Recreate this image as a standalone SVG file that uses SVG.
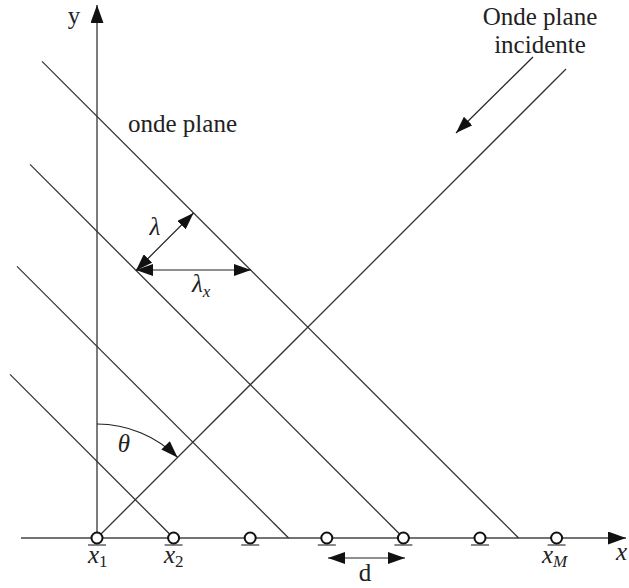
<svg xmlns="http://www.w3.org/2000/svg" width="629" height="588" viewBox="0 0 629 588">
<style>
.ln{stroke:#333;stroke-width:1.3;fill:none}
.ax{stroke:#444;stroke-width:1.4;fill:none}
.ar{stroke:#222;stroke-width:1.2;fill:none}
text{font-family:'Liberation Serif','Times New Roman','DejaVu Serif',serif;fill:#222}
.t{font-size:25px}
.m{font-size:25px;font-style:italic}
.s{font-size:17px;font-style:normal}
.si{font-size:17px;font-style:italic}
.sen circle{fill:#fff;stroke:#111;stroke-width:2}
.sen line{stroke:#888;stroke-width:2}
</style>
<defs>
<marker id="ah" markerUnits="userSpaceOnUse" markerWidth="18" markerHeight="12" refX="17" refY="6" orient="auto-start-reverse">
<path d="M0,0 L17,6 L0,12 z" fill="#111"/>
</marker>
<marker id="ahb" markerUnits="userSpaceOnUse" markerWidth="19" markerHeight="13" refX="18" refY="6.5" orient="auto-start-reverse">
<path d="M0,0 L18,6.5 L0,13 z" fill="#111"/>
</marker>
</defs>
<g id="connectors">
<line id="y-axis" class="ax" x1="97" y1="538" x2="97" y2="5" marker-end="url(#ahb)"/>
<line id="x-axis" class="ax" x1="21" y1="538" x2="626" y2="538" marker-end="url(#ahb)"/>
<line id="wave1" class="ln" x1="42" y1="61.4" x2="518.6" y2="538"/>
<line id="wave2" class="ln" x1="30" y1="164.4" x2="403.6" y2="538"/>
<line id="wave3" class="ln" x1="17" y1="266.4" x2="288.6" y2="538"/>
<line id="wave4" class="ln" x1="10" y1="374.4" x2="173.6" y2="538"/>
<line id="incident" class="ln" x1="97" y1="538" x2="566" y2="69"/>
<line id="incident-arrow" class="ar" x1="533" y1="57" x2="456" y2="133" marker-end="url(#ah)"/>
<line id="lambda-arrow" class="ar" x1="193.5" y1="213" x2="136" y2="270.5" marker-start="url(#ah)" marker-end="url(#ah)"/>
<line id="lambdax-arrow" class="ar" x1="136" y1="270" x2="251" y2="270" marker-start="url(#ah)" marker-end="url(#ah)"/>
<path id="theta-arc" class="ar" d="M97,424 A114,114 0 0,1 177.6,457.4" marker-end="url(#ah)"/>
<line id="d-arrow" class="ar" x1="328" y1="558" x2="405" y2="558" marker-start="url(#ah)" marker-end="url(#ah)"/>
</g>
<g id="sensors" class="sen">
<g id="s1"><line x1="88" y1="545" x2="106" y2="545"/><circle cx="97" cy="538" r="5.5"/></g>
<g id="s2"><line x1="164.6" y1="545" x2="182.6" y2="545"/><circle cx="173.6" cy="538" r="5.5"/></g>
<g id="s3"><line x1="241.2" y1="545" x2="259.2" y2="545"/><circle cx="250.2" cy="538" r="5.5"/></g>
<g id="s4"><line x1="317.8" y1="545" x2="335.8" y2="545"/><circle cx="326.8" cy="538" r="5.5"/></g>
<g id="s5"><line x1="394.4" y1="545" x2="412.4" y2="545"/><circle cx="403.4" cy="538" r="5.5"/></g>
<g id="s6"><line x1="471" y1="545" x2="489" y2="545"/><circle cx="480" cy="538" r="5.5"/></g>
<g id="s7"><line x1="547.6" y1="545" x2="565.6" y2="545"/><circle cx="556.6" cy="538" r="5.5"/></g>
</g>
<g id="labels">
<text class="t" x="74" y="24" text-anchor="middle">y</text>
<text class="t" x="540" y="25" text-anchor="middle">Onde plane</text>
<text class="t" x="540" y="53" text-anchor="middle">incidente</text>
<text class="t" x="128" y="132">onde plane</text>
<text class="m" x="155" y="235" text-anchor="middle">λ</text>
<text class="m" x="192" y="292">λ<tspan class="si" dy="5">x</tspan></text>
<text class="m" x="124" y="452" text-anchor="middle">θ</text>
<text class="m" x="88" y="563">x<tspan class="s" dy="4">1</tspan></text>
<text class="m" x="164" y="563">x<tspan class="s" dy="4">2</tspan></text>
<text class="m" x="542" y="563">x<tspan class="si" dy="4">M</tspan></text>
<text class="t" x="365" y="581" text-anchor="middle">d</text>
<text class="m" x="616" y="560">x</text>
</g>
</svg>
